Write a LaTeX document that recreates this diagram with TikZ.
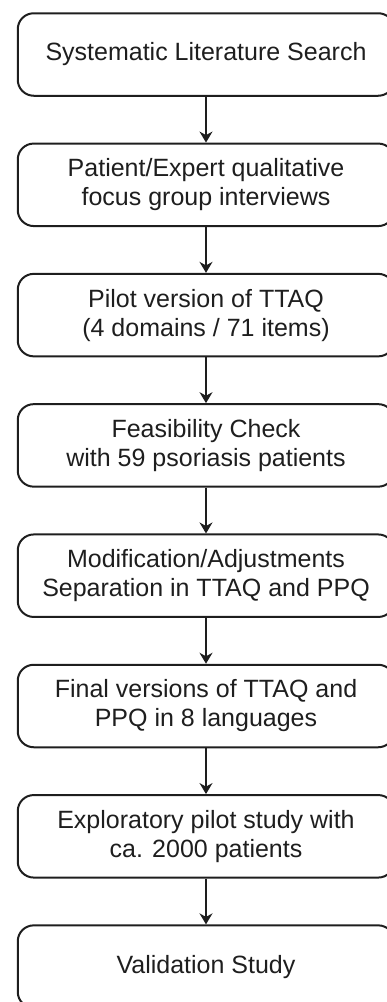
\documentclass[tikz,border=0pt]{standalone}
\usepackage{fontspec}
\setmainfont{Liberation Sans}
\usetikzlibrary{arrows.meta}
\definecolor{ink}{HTML}{1E1E1E}
\tikzset{
  stepbox/.style={draw=ink, line width=2pt, rounded corners=16pt,
    minimum width=376.5pt, minimum height=82.5pt, inner sep=0pt,
    align=center, text=ink, font=\fontsize{25}{29}\selectfont},
  flow/.style={draw=ink, line width=1.6pt, -{Stealth[length=11pt,width=13pt]}}
}
\begin{document}
\begin{tikzpicture}[x=1pt,y=-1pt]
\useasboundingbox (0,0) rectangle (387,1002);
\node[stepbox] (b1) at (206,54.5) {Systematic Literature Search};
\node[stepbox] (b2) at (206,184.8) {Patient/Expert qualitative\\focus group interviews};
\node[stepbox] (b3) at (206,315.1) {Pilot version of TTAQ\\(4 domains / 71 items)};
\node[stepbox] (b4) at (206,445.4) {Feasibility Check\\with 59 psoriasis patients};
\node[stepbox] (b5) at (206,575.7) {Modification/Adjustments\\Separation in TTAQ and PPQ};
\node[stepbox] (b6) at (206,706.0) {Final versions of TTAQ and\\PPQ in 8 languages};
\node[stepbox] (b7) at (206,836.3) {Exploratory pilot study with\\ca. 2000 patients};
\node[stepbox] (b8) at (206,966.6) {Validation Study};
\foreach \a/\b in {b1/b2,b2/b3,b3/b4,b4/b5,b5/b6,b6/b7,b7/b8}
  \draw[flow] (\a.south) -- (\b.north);
\end{tikzpicture}
\end{document}
